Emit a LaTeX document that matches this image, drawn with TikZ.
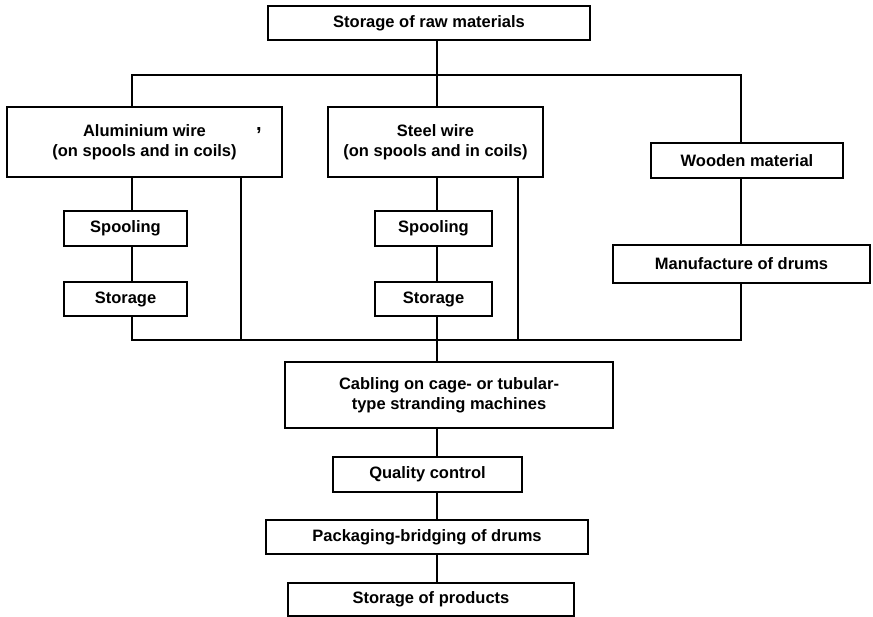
\documentclass[tikz,border=0pt]{standalone}
\usepackage{fontspec}
\setmainfont{Liberation Sans}

\tikzset{
  stepbox/.style={draw, line width=1.9pt, inner sep=0pt, align=center,
    font=\fontsize{16.5}{20}\selectfont\bfseries},
  link/.style={line width=1.8pt}
}

\begin{document}
\begin{tikzpicture}[x=1pt,y=-1pt]
\useasboundingbox (0,0) rectangle (873,617);

\node[stepbox, minimum width=322pt, minimum height=34pt] (raw) at (429,23) {Storage of raw materials};

\node[stepbox, minimum width=275pt, minimum height=70pt] (alu) at (144.5,142) {Aluminium wire\\(on spools and in coils)};
\node[stepbox, minimum width=215pt, minimum height=70pt] (steel) at (435.5,142) {Steel wire\\(on spools and in coils)};
\node[stepbox, minimum width=192pt, minimum height=35pt] (wood) at (747,160.5) {Wooden material};
\node[font=\fontsize{20}{20}\selectfont\bfseries] (comma) at (259,131) {,};

\node[stepbox, minimum width=123pt, minimum height=35pt] (spoolA) at (125.5,228.5) {Spooling};
\node[stepbox, minimum width=123pt, minimum height=34pt] (storeA) at (125.5,299) {Storage};
\node[stepbox, minimum width=117pt, minimum height=35pt] (spoolS) at (433.5,228.5) {Spooling};
\node[stepbox, minimum width=117pt, minimum height=34pt] (storeS) at (433.5,299) {Storage};
\node[stepbox, minimum width=257pt, minimum height=38pt] (drums) at (741.5,264) {Manufacture of drums};

\node[stepbox, minimum width=328pt, minimum height=66pt] (cab) at (449,395) {Cabling on cage- or tubular-\\type stranding machines};
\node[stepbox, minimum width=189pt, minimum height=35pt] (qual) at (427.5,474.5) {Quality control};
\node[stepbox, minimum width=322pt, minimum height=34pt] (pack) at (427,537) {Packaging-bridging of drums};
\node[stepbox, minimum width=286pt, minimum height=33pt] (prod) at (431,599.5) {Storage of products};

\coordinate (topL) at (132,75);
\coordinate (topM) at (437,75);
\coordinate (topR) at (741,75);
\coordinate (botL) at (132,340);
\coordinate (botA) at (241,340);
\coordinate (botM) at (437,340);
\coordinate (botS) at (518,340);
\coordinate (botR) at (741,340);

\draw[link] (raw.south -| topM) -- (topM);
\draw[link] (alu.north -| topL) -- (topL) -- (topR) -- (wood.north -| topR);
\draw[link] (topM) -- (steel.north -| topM);

\draw[link] (alu.south -| topL) -- (spoolA.north -| topL);
\draw[link] (spoolA.south -| topL) -- (storeA.north -| topL);
\draw[link] (alu.south -| botA) -- (botA);

\draw[link] (steel.south -| topM) -- (spoolS.north -| topM);
\draw[link] (spoolS.south -| topM) -- (storeS.north -| topM);
\draw[link] (steel.south -| botS) -- (botS);

\draw[link] (wood.south -| topR) -- (drums.north -| topR);

\draw[link] (storeA.south -| botL) -- (botL) -- (botR) -- (drums.south -| botR);
\draw[link] (storeS.south -| botM) -- (botM) -- (cab.north -| botM);

\draw[link] (cab.south -| botM) -- (qual.north -| botM);
\draw[link] (qual.south -| botM) -- (pack.north -| botM);
\draw[link] (pack.south -| botM) -- (prod.north -| botM);
\end{tikzpicture}
\end{document}
